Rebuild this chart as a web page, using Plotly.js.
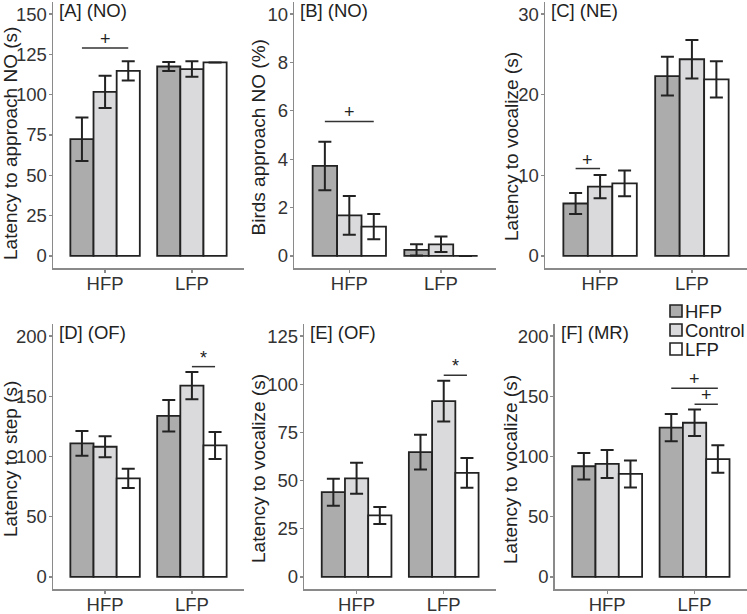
<!DOCTYPE html>
<html><head><meta charset="utf-8">
<script src="https://cdn.plot.ly/plotly-3.0.1.min.js"></script>
<style>html,body{margin:0;padding:0;background:#fff}#chart{width:747px;height:614px}</style>
</head><body><div id="chart"></div>
<script>
// ---- data ----
const groups = ['HFP', 'LFP'];
const treatments = ['HFP', 'Control', 'LFP'];
const panelTitles = ['[A] (NO)', '[B] (NO)', '[C] (NE)', '[D] (OF)', '[E] (OF)', '[F] (MR)'];
const yTitles = ['Latency to approach NO (s)', 'Birds approach NO (%)', 'Latency to vocalize (s)',
                 'Latency to step (s)', 'Latency to vocalize (s)', 'Latency to vocalize (s)'];
const yMax = [150, 10, 30, 200, 125, 200];
const yDtick = [25, 2, 10, 50, 25, 50];

// mean per panel, [HFP group, LFP group]
const meansHFP     = [[72.4, 117.5], [3.72, 0.25], [6.5, 22.3], [110.9, 133.8], [44.0, 64.8], [91.9, 123.9]];
const meansControl = [[101.8, 115.9], [1.68, 0.48], [8.6, 24.4], [108.1, 158.9], [51.2, 91.2], [93.8, 128.0]];
const meansLFP     = [[114.8, 120.0], [1.21, 0.0], [9.0, 21.9], [81.9, 109.2], [31.9, 54.0], [85.5, 97.9]];
// standard errors
const seHFP     = [[13.5, 2.8], [1.0, 0.23], [1.3, 2.4], [10.2, 13.1], [7.0, 9.0], [11.0, 11.3]];
const seControl = [[10.0, 4.8], [0.8, 0.32], [1.45, 2.4], [8.7, 11.3], [8.0, 10.6], [11.6, 11.0]];
const seLFP     = [[6.0, 0.0], [0.52, 0.0], [1.6, 2.25], [8.0, 11.2], [4.4, 7.7], [11.2, 11.4]];

// significance brackets
const sigPanel   = [0, 1, 2, 3, 4, 5, 5];
const sigGroup   = [0, 0, 0, 1, 1, 1, 1];
const sigFromBar = [0, 0, 0, 1, 1, 0, 1];
const sigToBar   = [2, 2, 1, 2, 2, 2, 2];
const sigY       = [129, 5.56, 10.84, 174.6, 104.7, 156.7, 143.4];
const sigLabel   = ['+', '+', '+', '*', '*', '+', '+'];

// ---- styling / layout ----
const fillColors = ['#acacac', '#dadadc', '#ffffff'];
const W = 747, H = 614;
const FONT = '"Liberation Sans", Arial, sans-serif';
const xPix = [[53, 244], [294.3, 496], [545, 747], [53, 244], [304.3, 496], [554.7, 747]];
const yPix = [[2, 268], [2, 268], [2, 268], [324, 589], [324, 589], [324, 589]];
const yTitleCx = [10, 258, 511, 10, 258, 510];
const yTitleCy = [144, 137.5, 146, 459, 469, 470];
const axisGray = '#8a8a8a';
const ink = '#222222';

const meanSets = [meansHFP, meansControl, meansLFP];
const seSets = [seHFP, seControl, seLFP];
const barW = 0.8 / 3;

const traces = [];
const layout = {
  width: W, height: H,
  margin: {l: 0, r: 0, t: 0, b: 0},
  paper_bgcolor: '#ffffff', plot_bgcolor: '#ffffff',
  barmode: 'group', bargap: 0.2, bargroupgap: 0,
  showlegend: false,
  font: {family: FONT, color: ink, size: 18},
  shapes: [], annotations: []
};

for (let p = 0; p < 6; p++) {
  const xs = p === 0 ? 'x' : 'x' + (p + 1);
  const ys = p === 0 ? 'y' : 'y' + (p + 1);
  for (let t = 0; t < 3; t++) {
    traces.push({
      type: 'bar', name: treatments[t], x: [0, 1], y: meanSets[t][p],
      xaxis: xs, yaxis: ys,
      marker: {color: fillColors[t], line: {color: ink, width: 1.8}},
      error_y: {type: 'data', array: seSets[t][p], visible: true, color: ink, thickness: 2, width: 6.5},
      hoverinfo: 'y'
    });
  }
  const xa = p === 0 ? 'xaxis' : 'xaxis' + (p + 1);
  const ya = p === 0 ? 'yaxis' : 'yaxis' + (p + 1);
  layout[xa] = {
    domain: [xPix[p][0] / W, xPix[p][1] / W], anchor: ys,
    range: [-0.6, 1.6], tickvals: [0, 1], ticktext: groups,
    showline: true, linecolor: axisGray, linewidth: 1.5,
    ticks: 'outside', ticklen: 3, tickcolor: axisGray, tickwidth: 1.2,
    ticklabelstandoff: -5,
    showgrid: false, zeroline: false, fixedrange: true,
    tickfont: {family: FONT, size: 18.5, color: '#333'}
  };
  layout[ya] = {
    domain: [1 - yPix[p][1] / H, 1 - yPix[p][0] / H], anchor: xs,
    range: [-0.05 * yMax[p], 1.05 * yMax[p]], tick0: 0, dtick: yDtick[p],
    showline: true, linecolor: axisGray, linewidth: 1.5,
    ticks: 'outside', ticklen: 3, tickcolor: axisGray, tickwidth: 1.2,
    ticklabelstandoff: -2,
    showgrid: false, zeroline: false, fixedrange: true,
    tickfont: {family: FONT, size: 18.5, color: '#333'},
    title: {text: ''}
  };
  // y axis title
  layout.annotations.push({
    xref: 'paper', yref: 'paper',
    x: yTitleCx[p] / W, y: 1 - yTitleCy[p] / H,
    xanchor: 'center', yanchor: 'middle', textangle: -90, showarrow: false,
    text: yTitles[p], font: {family: FONT, size: 19, color: ink}
  });
  // panel label
  layout.annotations.push({
    xref: 'paper', yref: 'paper',
    x: (xPix[p][0] + 4) / W, y: 1 - (yPix[p][0] + 8) / H,
    xanchor: 'left', yanchor: 'middle', showarrow: false,
    text: panelTitles[p], font: {family: FONT, size: 18.5, color: ink}
  });
}

for (let s = 0; s < sigPanel.length; s++) {
  const p = sigPanel[s];
  const xs = p === 0 ? 'x' : 'x' + (p + 1);
  const ys = p === 0 ? 'y' : 'y' + (p + 1);
  const x0 = sigGroup[s] + (sigFromBar[s] - 1) * barW;
  const x1 = sigGroup[s] + (sigToBar[s] - 1) * barW;
  layout.shapes.push({type: 'line', xref: xs, yref: ys, x0: x0, x1: x1, y0: sigY[s], y1: sigY[s],
    line: {color: '#333', width: 1.5}});
  layout.annotations.push({xref: xs, yref: ys, x: (x0 + x1) / 2, y: sigY[s], xanchor: 'center', yanchor: 'bottom',
    yshift: -3, showarrow: false, text: sigLabel[s], font: {family: FONT, size: 18, color: ink}});
}

// legend (drawn manually to mimic the compact key)
const legX = 670, legY = [311, 330, 349];
for (let t = 0; t < 3; t++) {
  layout.shapes.push({type: 'rect', xref: 'paper', yref: 'paper',
    x0: legX / W, x1: (legX + 12) / W, y0: 1 - (legY[t] + 6) / H, y1: 1 - (legY[t] - 6) / H,
    fillcolor: fillColors[t], line: {color: ink, width: 1.6}});
  layout.annotations.push({xref: 'paper', yref: 'paper', x: (legX + 13) / W, y: 1 - legY[t] / H,
    xanchor: 'left', yanchor: 'middle', showarrow: false, text: treatments[t],
    font: {family: FONT, size: 18.5, color: ink}});
}

Plotly.newPlot('chart', traces, layout, {displayModeBar: false, staticPlot: true});
</script>
</body></html>
